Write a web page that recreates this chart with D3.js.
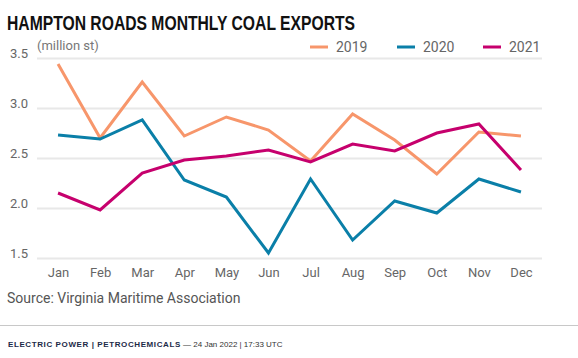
<!DOCTYPE html>
<html>
<head>
<meta charset="utf-8">
<script src="https://cdn.jsdelivr.net/npm/d3@7"></script>
<style>
  body { margin: 0; background: #fff; }
  svg { display: block; font-family: Roboto, "Liberation Sans", sans-serif; }
</style>
</head>
<body>
<div class="svgContainer"></div>
<script>
let months = ["Jan", "Feb", "Mar", "Apr", "May", "Jun", "Jul", "Aug", "Sep", "Oct", "Nov", "Dec"];
let years = ["2019", "2020", "2021"];
let v2019 = [3.44, 2.70, 3.26, 2.72, 2.91, 2.78, 2.47, 2.94, 2.68, 2.34, 2.76, 2.72];
let v2020 = [2.73, 2.69, 2.88, 2.28, 2.11, 1.55, 2.29, 1.68, 2.07, 1.95, 2.29, 2.16];
let v2021 = [2.15, 1.98, 2.35, 2.48, 2.52, 2.58, 2.46, 2.64, 2.57, 2.75, 2.84, 2.38];
let yTicks = [1.5, 2.0, 2.5, 3.0, 3.5];
let colors = ["#f7966b", "#0a7fa8", "#c6006d"];

let width = 578,
  height = 358;

let svg = d3
  .select(".svgContainer")
  .append("svg")
  .attr("width", width)
  .attr("height", height);

let series = [v2019, v2020, v2021];

let xScale = d3
  .scalePoint()
  .domain(months)
  .range([37, 542])
  .padding(0.5);

let yScale = d3
  .scaleLinear()
  .domain([1.5, 3.5])
  .range([258, 58]);

// title
svg
  .append("text")
  .attr("x", 7)
  .attr("y", 30)
  .attr("textLength", 348)
  .attr("lengthAdjust", "spacingAndGlyphs")
  .style("font-family", "'Liberation Sans Narrow', 'Liberation Sans', sans-serif")
  .style("font-weight", "bold")
  .style("font-size", "21px")
  .style("fill", "#111")
  .text("HAMPTON ROADS MONTHLY COAL EXPORTS");

svg
  .append("text")
  .attr("x", 37)
  .attr("y", 50)
  .style("font-size", "13px")
  .style("fill", "#777")
  .text("(million st)");

// gridlines + y labels
let yAxis = d3
  .axisLeft(yScale)
  .tickValues(yTicks)
  .tickFormat(d3.format(".1f"))
  .tickSize(-(542 - 37))
  .tickPadding(8);

let yAxisGroup = svg
  .append("g")
  .attr("transform", "translate(37,0)")
  .call(yAxis);

yAxisGroup.select(".domain").remove();
yAxisGroup
  .selectAll(".tick line")
  .attr("stroke", "#e8e8e8")
  .attr("stroke-width", 2);
yAxisGroup
  .selectAll(".tick text")
  .attr("x", -9)
  .attr("dy", "-0.05em")
  .style("font-size", "13px")
  .style("font-family", "Roboto, sans-serif")
  .style("fill", "#666");

// month labels
let xAxis = d3.axisBottom(xScale).tickSize(0).tickPadding(10);
let xAxisGroup = svg
  .append("g")
  .attr("transform", "translate(0,258)")
  .call(xAxis);
xAxisGroup.select(".domain").remove();
xAxisGroup
  .selectAll(".tick text")
  .style("font-size", "13px")
  .style("font-family", "Roboto, sans-serif")
  .style("fill", "#666");

// lines
let line = d3
  .line()
  .x((d, i) => xScale(months[i]))
  .y(d => yScale(d));

svg
  .selectAll("path.series")
  .data(series)
  .enter()
  .append("path")
  .attr("class", "series")
  .attr("d", d => line(d))
  .attr("fill", "none")
  .attr("stroke", (d, i) => colors[i])
  .attr("stroke-width", 3)
  .attr("stroke-linejoin", "miter");

// legend
let legendX = [310, 397, 483];
let legend = svg
  .selectAll("g.legend")
  .data(years)
  .enter()
  .append("g")
  .attr("class", "legend")
  .attr("transform", (d, i) => "translate(" + legendX[i] + ",47)");

legend
  .append("line")
  .attr("x1", 0)
  .attr("x2", 18)
  .attr("stroke", (d, i) => colors[i])
  .attr("stroke-width", 3);

legend
  .append("text")
  .attr("x", 26)
  .attr("y", 5)
  .style("font-size", "14px")
  .style("fill", "#666")
  .text(d => d);

// source
svg
  .append("text")
  .attr("x", 7)
  .attr("y", 303)
  .style("font-size", "14px")
  .style("fill", "#555")
  .text("Source: Virginia Maritime Association");

// footer
svg
  .append("line")
  .attr("x1", 0)
  .attr("x2", width)
  .attr("y1", 325.5)
  .attr("y2", 325.5)
  .attr("stroke", "#c8c8c8")
  .attr("stroke-width", 1);

let footer = svg
  .append("text")
  .attr("x", 8)
  .attr("y", 347)
  .style("font-family", "'Liberation Sans', Arial, sans-serif")
  .style("font-size", "8px");

footer
  .append("tspan")
  .style("font-weight", "bold")
  .style("fill", "#1c2a48")
  .style("letter-spacing", "0.6px")
  .text("ELECTRIC POWER | PETROCHEMICALS");

footer
  .append("tspan")
  .style("fill", "#333")
  .text(" \u2014  24 Jan 2022 | 17:33 UTC");
</script>
</body>
</html>
